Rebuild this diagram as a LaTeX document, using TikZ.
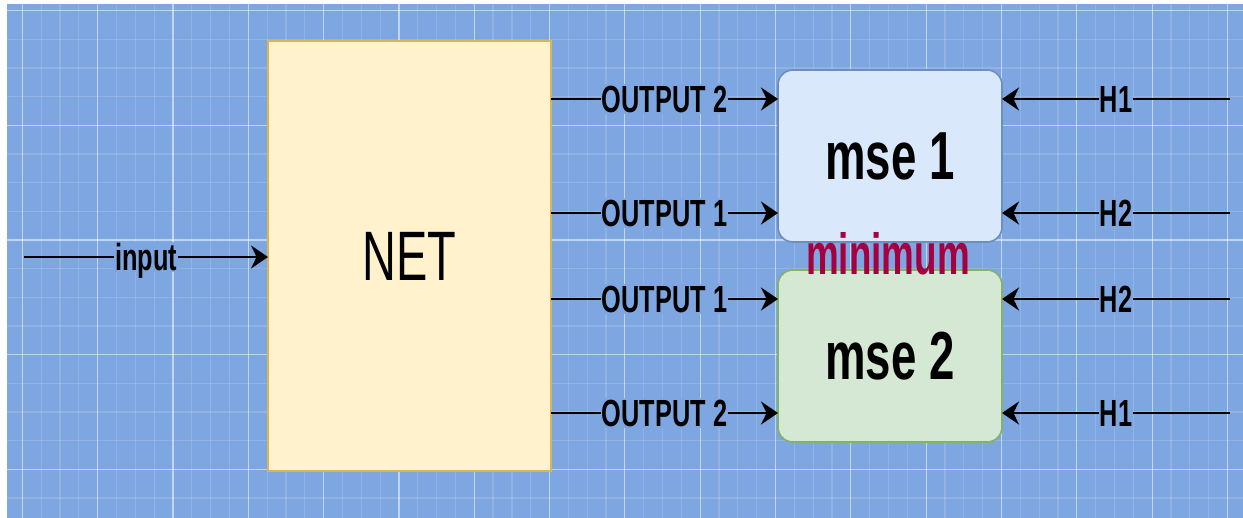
\documentclass[tikz,border=0pt]{standalone}
\usepackage{fontspec}
\usetikzlibrary{arrows.meta}
\newfontfamily\nar{Liberation Sans}[FakeStretch=0.67]
\newfontfamily\narmin{Liberation Sans}[FakeStretch=0.635]
\definecolor{bgblue}{HTML}{7EA6E0}
\definecolor{netfill}{HTML}{FFF2CC}
\definecolor{netdraw}{HTML}{D6B656}
\definecolor{bluefill}{HTML}{DAE8FC}
\definecolor{bluedraw}{HTML}{6C8EBF}
\definecolor{greenfill}{HTML}{D5E8D4}
\definecolor{greendraw}{HTML}{82B366}
\definecolor{minred}{HTML}{A50040}
\tikzset{
  x=0.5pt, y=-0.5pt,
  minorgrid/.style={draw=white, draw opacity=0.15, line width=0.6pt},
  majorgrid/.style={draw=white, draw opacity=0.45, line width=0.6pt},
  netbox/.style={draw=netdraw, fill=netfill, line width=0.9pt, inner sep=0pt, outer sep=0pt,
    minimum width=141.5pt, minimum height=215pt, font=\nar\fontsize{35}{40}\selectfont},
  msebox/.style={rounded corners=7.5pt, line width=0.8pt, inner sep=0pt, outer sep=0pt,
    minimum width=112pt, minimum height=86pt, font=\nar\bfseries\fontsize{34}{39}\selectfont},
  conn/.style={line width=1.2pt, -{Stealth[length=8.5pt, width=11.5pt, inset=2.8pt]}},
  lbl/.style={fill=bgblue, inner sep=0.6pt, text height=13.5pt, text depth=0pt,
    font=\nar\bfseries\fontsize{18.9}{22}\selectfont, text=black},
}
\begin{document}
\begin{tikzpicture}
\useasboundingbox (0,0) rectangle (1243,518);
\fill[white] (0,0) rectangle (1243,518);
\fill[bgblue] (7,4) rectangle (1243,518);
\begin{scope}
\clip (7,4) rectangle (1243,518);
\foreach \i in {0,...,66} {\draw[minorgrid] ({3.5+18.83*\i},4) -- ++(0,514);}
\foreach \i in {0,...,18} {\draw[minorgrid] (7,{10.7+28.67*\i}) -- ++(1236,0);}
\foreach \i in {0,...,16} {\draw[majorgrid] ({22.3+75.32*\i},4) -- ++(0,514);}
\foreach \i in {0,...,4} {\draw[majorgrid] (7,{10.7+114.67*\i}) -- ++(1236,0);}
\end{scope}

\node[netbox] (net) at (409.5,256) {NET};
\node[msebox, draw=bluedraw, fill=bluefill] (mse1) at (890,156) {mse 1};
\node[msebox, draw=greendraw, fill=greenfill] (mse2) at (890,356) {mse 2};
\node[anchor=base, inner sep=0pt, text=minred, font=\narmin\bfseries\fontsize{29}{34}\selectfont] (minimum) at (888,275) {minimum};

\coordinate (in) at (24,257);
\coordinate (h1a) at (1230,99);
\coordinate (h2a) at (1230,213);
\coordinate (h2b) at (1230,299);
\coordinate (h1b) at (1230,413);

\draw[conn] (in) -- (in -| net.west) node[lbl, midway] (linput) {input};
\draw[conn] (net.east |- 0,99) -- (mse1.west |- 0,99) node[lbl, midway] (lo2a) {OUTPUT 2};
\draw[conn] (net.east |- 0,213) -- (mse1.west |- 0,213) node[lbl, midway] (lo1a) {OUTPUT 1};
\draw[conn] (net.east |- 0,299) -- (mse2.west |- 0,299) node[lbl, midway] (lo1b) {OUTPUT 1};
\draw[conn] (net.east |- 0,413) -- (mse2.west |- 0,413) node[lbl, midway] (lo2b) {OUTPUT 2};
\draw[conn] (h1a) -- (h1a -| mse1.east) node[lbl, midway] (lh1a) {H1};
\draw[conn] (h2a) -- (h2a -| mse1.east) node[lbl, midway] (lh2a) {H2};
\draw[conn] (h2b) -- (h2b -| mse2.east) node[lbl, midway] (lh2b) {H2};
\draw[conn] (h1b) -- (h1b -| mse2.east) node[lbl, midway] (lh1b) {H1};
\end{tikzpicture}
\end{document}
